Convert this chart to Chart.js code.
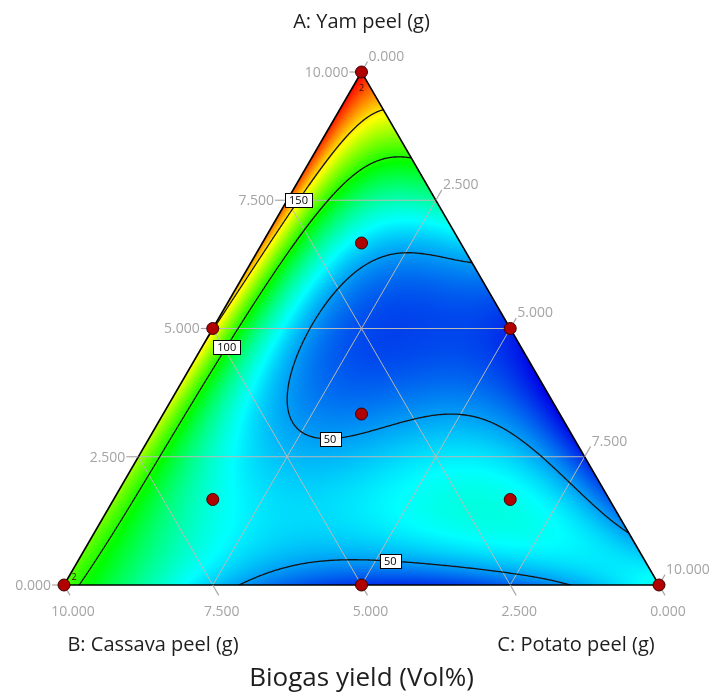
<!DOCTYPE html>
<html>
<head>
<meta charset="utf-8">
<script src="https://cdn.jsdelivr.net/npm/chart.js@4.4.1/dist/chart.umd.min.js"></script>
<style>
  html, body { margin: 0; padding: 0; background: #fff; }
  canvas { display: block; }
</style>
</head>
<body>
<canvas id="chart" width="719" height="700"></canvas>
<script>
const yamPeel = [10, 0, 0, 9.45, 7.5, 5, 2.5, 1, 9.45, 8.2, 7.2, 6.47, 5, 3.5, 2, 1.2, 0.78, 0.3,
  0, 0, 0, 0, 0, 0, 0, 0, 0, 0, 0, 6.67, 3.33, 1.67, 1.67,
  8.97, 8.48, 7.99, 7.56, 6.82, 6.10, 5.46,
  8.15, 7.64, 6.59, 5.69, 4.62, 3.80, 2.50, 1.27,
  6.55, 6.39, 6.00, 5.36, 4.58, 3.55, 2.83, 2.79, 2.96, 3.22, 3.29, 3.22, 2.96, 2.50, 1.91, 1.33,
  0.29, 0.53, 0.58, 0.45, 0.19,
  7.50, 7.50, 6.00, 6.00, 6.00, 4.58, 4.99, 4.97, 4.00, 4.00, 4.00, 4.00, 4.00, 3.22,
  2.01, 2.01, 2.01, 2.01, 2.01, 2.01, 2.01, 0.80, 0.80, 0.80, 0.80, 0.80, 0.80, 0.80, 0.80, 2.63, 8.66,
  9.7, 9.2, 0, 0, 9.6, 9.3, 9.2];
const cassavaPeel = [0, 10, 0, 0.55, 2.5, 5, 7.5, 9, 0, 0, 0, 0, 0, 0, 0, 0, 0, 0,
  9.4, 8.55, 7.9, 7.43, 6.7, 6, 5, 3.5, 2.5, 1.37, 0.66, 1.67, 3.33, 6.67, 1.67,
  0.54, 1.12, 1.74, 2.29, 3.09, 3.81, 4.46,
  0.50, 1.59, 2.96, 3.86, 4.88, 5.73, 7.09, 8.46,
  0.86, 1.71, 2.53, 3.35, 4.03, 4.60, 4.79, 4.12, 3.43, 2.53, 1.92, 1.40, 0.97, 0.75, 0.76, 0.50,
  6.73, 5.55, 4.21, 2.78, 1.90,
  1.24, 0.26, 3.03, 1.02, 0.17, 4.25, 2.50, 1.20, 5.04, 4.71, 3.53, 2.36, 1.01, 5.91,
  7.05, 5.87, 5.03, 3.99, 3.01, 2.00, 1.00, 8.16, 7.32, 5.64, 4.59, 3.11, 1.94, 0.93, 0.26, 6.57, 0.36,
  0, 0, 1.0, 2.0, 0, 0, 0.4];
const potatoPeel = [0, 0, 10, 0, 0, 0, 0, 0, 0.55, 1.8, 2.8, 3.53, 5, 6.5, 8, 8.8, 9.22, 9.7,
  0.6, 1.45, 2.1, 2.57, 3.3, 4, 5, 6.5, 7.5, 8.63, 9.34, 1.67, 3.33, 1.67, 6.67,
  0.49, 0.40, 0.27, 0.15, 0.09, 0.09, 0.08,
  1.35, 0.77, 0.45, 0.45, 0.50, 0.47, 0.41, 0.27,
  2.59, 1.90, 1.47, 1.29, 1.39, 1.85, 2.38, 3.09, 3.61, 4.25, 4.79, 5.38, 6.07, 6.75, 7.33, 8.17,
  2.98, 3.92, 5.21, 6.77, 7.91,
  1.26, 2.24, 0.97, 2.98, 3.83, 1.17, 2.51, 3.83, 0.96, 1.29, 2.47, 3.64, 4.99, 0.87,
  0.94, 2.12, 2.96, 4.00, 4.98, 5.99, 6.99, 1.04, 1.88, 3.56, 4.61, 6.09, 7.26, 8.27, 8.94, 0.80, 0.98,
  0.3, 0.8, 9.0, 8.0, 0.4, 0.7, 0.4];
const biogasYield = [225, 105, 65, 214, 175, 152, 128, 112, 150, 100, 68, 50, 41, 40, 43, 47, 51, 59,
  97, 76, 61, 50, 47, 43, 41, 42, 45, 50, 58, 70, 44, 63, 66,
  150, 150, 150, 150, 150, 150, 150,
  100, 100, 100, 100, 100, 100, 100, 100,
  50, 50, 50, 50, 50, 50, 50, 50, 50, 50, 50, 50, 50, 50, 50, 50,
  50, 50, 50, 50, 50,
  82, 72, 73, 45, 42, 63, 44, 41, 72, 63, 45, 43, 41, 74,
  70, 62, 57, 60, 65, 66, 56, 75, 62, 56, 55, 58, 62, 61, 55, 80, 118,
  180, 138, 54, 46, 168, 143, 160];

// design runs (g)
const designYam = [10, 0, 0, 5, 5, 0, 3.333, 6.667, 1.667, 1.667];
const designCassava = [0, 10, 0, 5, 0, 5, 3.333, 1.667, 6.667, 1.667];
const designPotato = [0, 0, 10, 0, 5, 5, 3.333, 1.667, 1.667, 6.667];
const replicates = [2, 2, 1, 1, 1, 1, 1, 1, 1, 1];

const axisTicks = [0, 2.5, 5, 7.5, 10];
const gridTicks = [2.5, 5, 7.5];
const contourLevels = [50, 100, 150];
const labelLevel = [150, 100, 50, 50];
const labelYam = [7.56, 4.62, 2.79, 0.58];
const labelCassava = [2.37, 4.90, 4.12, 4.21];
const labelPotato = [0.07, 0.48, 3.09, 5.21];

const palette = [[0, 0, 230], [0, 255, 255], [0, 255, 0], [255, 255, 0], [255, 0, 0]];
const colourPower = 0.25;

// Scheffe quartic in the fractions, fitted on ln(yield)
function terms(a, b, c) {
  return [a, b, c, a * b, a * c, b * c,
    a * b * (a - b), a * c * (a - c), b * c * (b - c),
    a * b * (a - b) * (a - b), a * c * (a - c) * (a - c), b * c * (b - c) * (b - c),
    a * a * b * c, a * b * b * c, a * b * c * c];
}

function fitModel() {
  const n = 15;
  const M = Array.from({ length: n }, () => new Array(n + 1).fill(0));
  for (let i = 0; i < biogasYield.length; i++) {
    const s = yamPeel[i] + cassavaPeel[i] + potatoPeel[i];
    const f = terms(yamPeel[i] / s, cassavaPeel[i] / s, potatoPeel[i] / s);
    const z = Math.log(biogasYield[i]);
    for (let r = 0; r < n; r++) {
      for (let k = 0; k < n; k++) M[r][k] += f[r] * f[k];
      M[r][n] += f[r] * z;
    }
  }
  for (let r = 0; r < n; r++) M[r][r] += 1e-10;
  for (let col = 0; col < n; col++) {
    let piv = col;
    for (let r = col + 1; r < n; r++) if (Math.abs(M[r][col]) > Math.abs(M[piv][col])) piv = r;
    [M[col], M[piv]] = [M[piv], M[col]];
    for (let r = 0; r < n; r++) {
      if (r === col) continue;
      const k = M[r][col] / M[col][col];
      for (let j = col; j <= n; j++) M[r][j] -= k * M[col][j];
    }
  }
  return M.map((row, i) => row[n] / row[i]);
}

const coef = fitModel();
function lnYield(a, b, c) {
  const f = terms(a, b, c);
  let z = 0;
  for (let k = 0; k < f.length; k++) z += coef[k] * f[k];
  return z;
}

function paletteColor(t) {
  t = Math.max(0, Math.min(1, t)) * (palette.length - 1);
  const i = Math.min(palette.length - 2, Math.floor(t));
  const f = t - i;
  const p = palette[i], q = palette[i + 1];
  return [p[0] + (q[0] - p[0]) * f, p[1] + (q[1] - p[1]) * f, p[2] + (q[2] - p[2]) * f];
}

// ternary (A, B, C) -> cartesian data space
const toX = (A, B, C) => (C + A / 2) / (A + B + C);
const toY = (A, B, C) => A / (A + B + C);

function segmentsFor(grid, nx, ny, level) {
  const segs = [];
  for (let j = 0; j < ny - 1; j++) {
    for (let i = 0; i < nx - 1; i++) {
      const v0 = grid[j * nx + i], v1 = grid[j * nx + i + 1];
      const v2 = grid[(j + 1) * nx + i + 1], v3 = grid[(j + 1) * nx + i];
      const pts = [];
      const edge = (va, vb, xa, ya, xb, yb) => {
        if ((va < level) !== (vb < level)) {
          const t = (level - va) / (vb - va);
          pts.push([xa + t * (xb - xa), ya + t * (yb - ya)]);
        }
      };
      edge(v0, v1, i, j, i + 1, j);
      edge(v1, v2, i + 1, j, i + 1, j + 1);
      edge(v2, v3, i + 1, j + 1, i, j + 1);
      edge(v3, v0, i, j + 1, i, j);
      if (pts.length >= 2) segs.push([pts[0], pts[1]]);
      if (pts.length === 4) segs.push([pts[2], pts[3]]);
    }
  }
  return segs;
}

let contourCache = null;

const ternaryPlugin = {
  id: 'ternary',
  beforeDatasetsDraw(chart) {
    const { ctx, scales: { x, y } } = chart;
    const px = (A, B, C) => [x.getPixelForValue(toX(A, B, C)), y.getPixelForValue(toY(A, B, C))];
    const vA = px(10, 0, 0), vB = px(0, 10, 0), vC = px(0, 0, 10);
    const tri = () => { ctx.beginPath(); ctx.moveTo(...vA); ctx.lineTo(...vB); ctx.lineTo(...vC); ctx.closePath(); };

    // colour map (power colour scale between surface min and max)
    const x0 = Math.floor(vB[0]) - 1, x1 = Math.ceil(vC[0]) + 1;
    const y0 = Math.floor(vA[1]) - 1, y1 = Math.ceil(vB[1]) + 1;
    const w = x1 - x0, h = y1 - y0;
    const vs = new Float64Array(w * h).fill(NaN);
    let vmin = Infinity, vmax = -Infinity;
    for (let j = 0; j < h; j++) {
      const a = y.getValueForPixel(y0 + j + 0.5);
      for (let i = 0; i < w; i++) {
        const c = x.getValueForPixel(x0 + i + 0.5) - a / 2;
        const b = 1 - a - c;
        if (a < -0.004 || b < -0.004 || c < -0.004) continue;
        const v = Math.exp(colourPower * lnYield(Math.max(a, 0), Math.max(b, 0), Math.max(c, 0)));
        vs[j * w + i] = v;
        if (a >= 0 && b >= 0 && c >= 0) { vmin = Math.min(vmin, v); vmax = Math.max(vmax, v); }
      }
    }
    const off = document.createElement('canvas');
    off.width = w; off.height = h;
    const octx = off.getContext('2d');
    const img = octx.createImageData(w, h);
    for (let k = 0; k < w * h; k++) {
      if (isNaN(vs[k])) continue;
      const col = paletteColor((vs[k] - vmin) / (vmax - vmin));
      img.data[k * 4] = col[0]; img.data[k * 4 + 1] = col[1]; img.data[k * 4 + 2] = col[2]; img.data[k * 4 + 3] = 255;
    }
    octx.putImageData(img, 0, 0);
    ctx.save();
    tri(); ctx.clip();
    ctx.drawImage(off, x0, y0);

    // grid
    ctx.strokeStyle = '#b9b9b9';
    ctx.lineWidth = 1;
    ctx.beginPath();
    gridTicks.forEach(v => {
      const lines = [[px(v, 10 - v, 0), px(v, 0, 10 - v)], [px(10 - v, v, 0), px(0, v, 10 - v)], [px(10 - v, 0, v), px(0, 10 - v, v)]];
      lines.forEach(([p, q]) => { ctx.moveTo(...p); ctx.lineTo(...q); });
    });
    ctx.stroke();

    // contours
    const step = 2;
    const nx = Math.ceil(w / step) + 1, ny = Math.ceil(h / step) + 1;
    const grid = new Float64Array(nx * ny);
    for (let j = 0; j < ny; j++) {
      const a = y.getValueForPixel(y0 + j * step);
      for (let i = 0; i < nx; i++) {
        const c = x.getValueForPixel(x0 + i * step) - a / 2;
        grid[j * nx + i] = lnYield(a, 1 - a - c, c);
      }
    }
    contourCache = {};
    ctx.strokeStyle = '#141414';
    ctx.lineWidth = 1.3;
    ctx.lineCap = 'round';
    contourLevels.forEach(level => {
      const segs = segmentsFor(grid, nx, ny, Math.log(level)).map(s => s.map(p => [x0 + p[0] * step, y0 + p[1] * step]));
      contourCache[level] = segs;
      ctx.beginPath();
      segs.forEach(([p, q]) => { ctx.moveTo(...p); ctx.lineTo(...q); });
      ctx.stroke();
    });
    ctx.restore();

    // frame
    ctx.save();
    ctx.strokeStyle = '#000';
    ctx.lineWidth = 1.6;
    tri(); ctx.stroke();

    // ticks and tick labels
    ctx.strokeStyle = '#a8a8a8';
    ctx.lineWidth = 1.2;
    ctx.fillStyle = '#a4a4a4';
    ctx.font = '14px "Open Sans", sans-serif';
    axisTicks.forEach(v => {
      const txt = v.toFixed(3);
      let p = px(v, 10 - v, 0);
      ctx.beginPath(); ctx.moveTo(...p); ctx.lineTo(p[0] - 12, p[1]); ctx.stroke();
      ctx.textAlign = 'right'; ctx.textBaseline = 'middle';
      ctx.fillText(txt, p[0] - 13, p[1] + 1);

      p = px(0, v, 10 - v);
      ctx.beginPath(); ctx.moveTo(...p); ctx.lineTo(p[0] + 6, p[1] + 10.4); ctx.stroke();
      ctx.textAlign = 'center';
      ctx.fillText(txt, p[0] + 9, p[1] + 27);

      p = px(10 - v, 0, v);
      ctx.beginPath(); ctx.moveTo(...p); ctx.lineTo(p[0] + 6, p[1] - 10.4); ctx.stroke();
      ctx.textAlign = 'left';
      ctx.fillText(txt, p[0] + 7, p[1] - 15);
    });

    // axis titles
    ctx.fillStyle = '#1e1e1e';
    ctx.textBaseline = 'alphabetic';
    ctx.textAlign = 'center';
    ctx.font = '20px "Open Sans", sans-serif';
    ctx.fillText('A: Yam peel (g)', vA[0], vA[1] - 44);
    ctx.fillText('B: Cassava peel (g)', vB[0] + 89, vB[1] + 66);
    ctx.fillText('C: Potato peel (g)', vC[0] - 83, vC[1] + 66);
    ctx.font = '26px "Open Sans", sans-serif';
    ctx.fillText('Biogas yield (Vol%)', (vB[0] + vC[0]) / 2, vB[1] + 101);
    ctx.restore();
  },
  afterDatasetsDraw(chart) {
    const { ctx, scales: { x, y } } = chart;
    const px = (A, B, C) => [x.getPixelForValue(toX(A, B, C)), y.getPixelForValue(toY(A, B, C))];
    ctx.save();
    // contour labels, snapped to the nearest point of their contour
    ctx.font = '11px "Open Sans", sans-serif';
    ctx.textAlign = 'center';
    ctx.textBaseline = 'middle';
    labelLevel.forEach((level, i) => {
      let [tx, ty] = px(labelYam[i], labelCassava[i], labelPotato[i]);
      let best = null, bd = 30 * 30;
      (contourCache[level] || []).forEach(([p, q]) => {
        const mx = (p[0] + q[0]) / 2, my = (p[1] + q[1]) / 2;
        const d = (mx - tx) ** 2 + (my - ty) ** 2;
        if (d < bd) { bd = d; best = [mx, my]; }
      });
      if (best) [tx, ty] = best;
      const txt = String(level);
      const bw = Math.round(ctx.measureText(txt).width + 8), bh = 14;
      const bx = Math.round(tx - bw / 2) + 0.5, by = Math.round(ty - bh / 2) + 0.5;
      ctx.fillStyle = '#fff';
      ctx.fillRect(bx, by, bw, bh);
      ctx.strokeStyle = '#000';
      ctx.lineWidth = 1;
      ctx.strokeRect(bx, by, bw, bh);
      ctx.fillStyle = '#000';
      ctx.fillText(txt, tx, ty + 1);
    });
    // replicate counts
    ctx.font = '9px "Open Sans", sans-serif';
    ctx.fillStyle = '#3a0a00';
    replicates.forEach((r, i) => {
      if (r < 2) return;
      const [qx, qy] = px(designYam[i], designCassava[i], designPotato[i]);
      if (designYam[i] === 10) ctx.fillText(String(r), qx, qy + 16);
      else ctx.fillText(String(r), qx + 10, qy - 8);
    });
    ctx.restore();
  }
};

new Chart(document.getElementById('chart'), {
  type: 'scatter',
  data: {
    datasets: [{
      label: 'Design points',
      data: designYam.map((A, i) => ({ x: toX(A, designCassava[i], designPotato[i]), y: toY(A, designCassava[i], designPotato[i]) })),
      pointRadius: 6,
      pointBackgroundColor: '#b00000',
      pointBorderColor: '#3c0000',
      pointBorderWidth: 1,
      clip: false
    }]
  },
  options: {
    responsive: false,
    animation: false,
    events: [],
    layout: { padding: 0, autoPadding: false },
    plugins: { legend: { display: false }, tooltip: { enabled: false } },
    scales: {
      x: { type: 'linear', display: false, min: -64 / 595, max: 655 / 595 },
      y: { type: 'linear', display: false, min: -115 / 513, max: 1 + 72 / 513 }
    }
  },
  plugins: [ternaryPlugin]
});
</script>
</body>
</html>
